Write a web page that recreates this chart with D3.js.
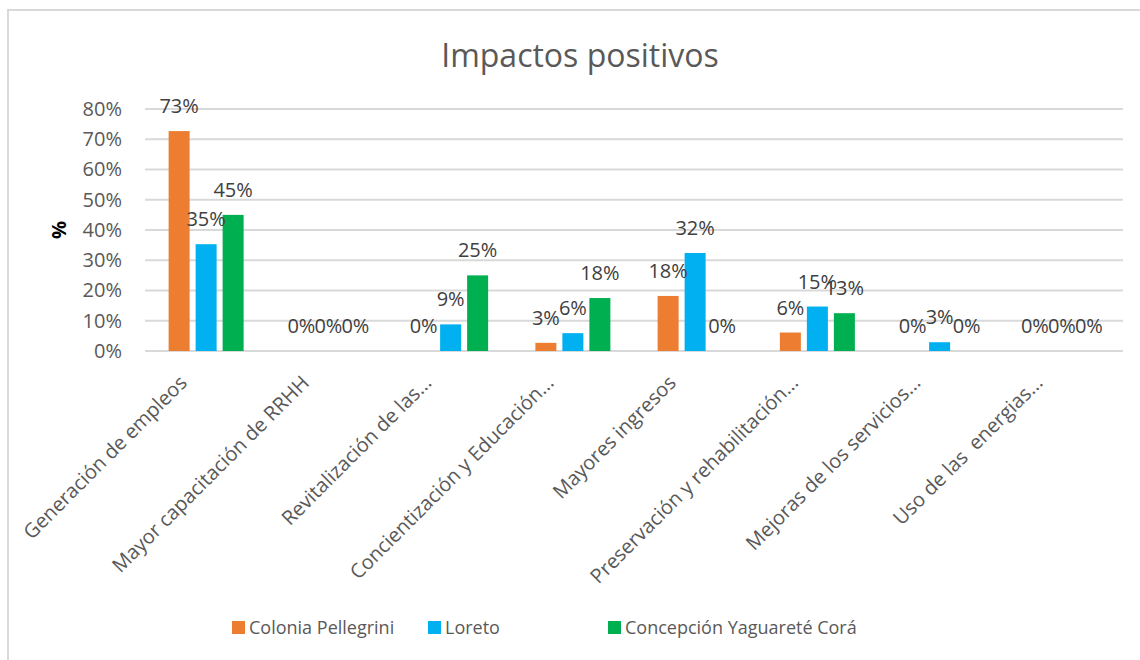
<!DOCTYPE html>
<html>
<head>
<meta charset="utf-8">
<script src="https://cdn.jsdelivr.net/npm/d3@7"></script>
<style>
  body { margin: 0; background: #fff; }
  text { font-family: "Open Sans", sans-serif; }
</style>
</head>
<body>
<div id="chart"></div>
<script>
const categories = [
  "Generación de empleos",
  "Mayor capacitación de RRHH",
  "Revitalización de las...",
  "Concientización y Educación...",
  "Mayores ingresos",
  "Preservación y rehabilitación...",
  "Mejoras de los servicios...",
  "Uso de las  energias..."
];
const seriesNames = ["Colonia Pellegrini", "Loreto", "Concepción Yaguareté Corá"];
const coloniaPellegrini = [0.727, 0, 0, 0.027, 0.182, 0.061, 0, 0];
const loreto = [0.353, 0, 0.088, 0.059, 0.324, 0.147, 0.029, 0];
const concepcion = [0.45, 0, 0.25, 0.175, 0, 0.125, 0, 0];
const yTicks = [0, 0.1, 0.2, 0.3, 0.4, 0.5, 0.6, 0.7, 0.8];
const colors = ["#ed7d31", "#00b0f0", "#00b050"];

const W = 1140, H = 660;
const margin = { top: 109, right: 17, bottom: 309, left: 145 };
const width = W - margin.left - margin.right;
const height = H - margin.top - margin.bottom;

const svg = d3.select("#chart").append("svg")
  .attr("width", W).attr("height", H);

// chart border (top and left visible)
svg.append("path")
  .attr("d", `M8,${H + 5}V10H${W + 5}`)
  .attr("fill", "none").attr("stroke", "#d9d9d9").attr("stroke-width", 2);

svg.append("text")
  .attr("x", 580).attr("y", 67)
  .attr("text-anchor", "middle")
  .style("font-size", "32px").style("fill", "#595959")
  .text("Impactos positivos");

const g = svg.append("g").attr("transform", `translate(${margin.left},${margin.top})`);

const x0 = d3.scaleBand().domain(categories).range([0, width]);
const x1 = d3.scaleBand().domain(seriesNames).range([0, 81])
  .paddingInner(6 / 27).paddingOuter(3 / 27);
const groupOffset = (x0.bandwidth() - 81) / 2;
const y = d3.scaleLinear().domain([0, 0.8]).range([height, 0]);

// gridlines
g.append("g")
  .selectAll("line").data(yTicks).join("line")
  .attr("x1", 0).attr("x2", width)
  .attr("y1", d => y(d)).attr("y2", d => y(d))
  .attr("stroke", "#d9d9d9").attr("stroke-width", 2);

// y axis labels
const yAxis = g.append("g")
  .call(d3.axisLeft(y).tickValues(yTicks).tickFormat(d3.format(".0%")).tickSize(0).tickPadding(23));
yAxis.select(".domain").remove();
yAxis.selectAll("text")
  .style("font-family", "'Open Sans', sans-serif")
  .style("font-size", "20px").style("fill", "#595959");

svg.append("text")
  .attr("transform", "translate(66,230) rotate(-90)")
  .attr("text-anchor", "middle")
  .style("font-size", "20px").style("font-weight", "bold").style("fill", "#000")
  .text("%");

const table = categories.map((c, i) => ({
  category: c,
  values: [coloniaPellegrini[i], loreto[i], concepcion[i]].map((v, j) => ({ series: seriesNames[j], value: v, color: colors[j] }))
}));

const groups = g.selectAll(".cat").data(table).join("g")
  .attr("class", "cat")
  .attr("transform", d => `translate(${x0(d.category) + groupOffset},0)`);

groups.selectAll("rect").data(d => d.values).join("rect")
  .attr("x", d => x1(d.series))
  .attr("width", x1.bandwidth())
  .attr("y", d => y(d.value))
  .attr("height", d => height - y(d.value))
  .attr("fill", d => d.color);

groups.selectAll("text.lbl").data(d => d.values).join("text")
  .attr("class", "lbl")
  .attr("x", d => x1(d.series) + x1.bandwidth() / 2)
  .attr("y", d => y(d.value) - 18)
  .attr("text-anchor", "middle")
  .style("font-size", "20px").style("fill", "#404040")
  .text(d => d3.format(".0%")(d.value));

// category labels, rotated
g.append("g").selectAll("text").data(categories).join("text")
  .attr("transform", d => `translate(${x0(d) + x0.bandwidth() / 2 - 18},${height + 33}) rotate(-45)`)
  .attr("text-anchor", "end")
  .style("font-size", "20px").style("fill", "#595959")
  .style("white-space", "pre")
  .text(d => d);

// legend
const legendX = [232, 428, 608];
const legend = svg.append("g").attr("transform", "translate(0,628)");
const items = legend.selectAll("g").data(seriesNames).join("g")
  .attr("transform", (d, i) => `translate(${legendX[i]},0)`);
items.append("rect")
  .attr("x", 0).attr("y", -7).attr("width", 13).attr("height", 13)
  .attr("fill", (d, i) => colors[i]);
items.append("text")
  .attr("x", 17).attr("y", 0).attr("dy", "0.35em")
  .style("font-size", "18px").style("fill", "#595959")
  .text(d => d);
</script>
</body>
</html>
